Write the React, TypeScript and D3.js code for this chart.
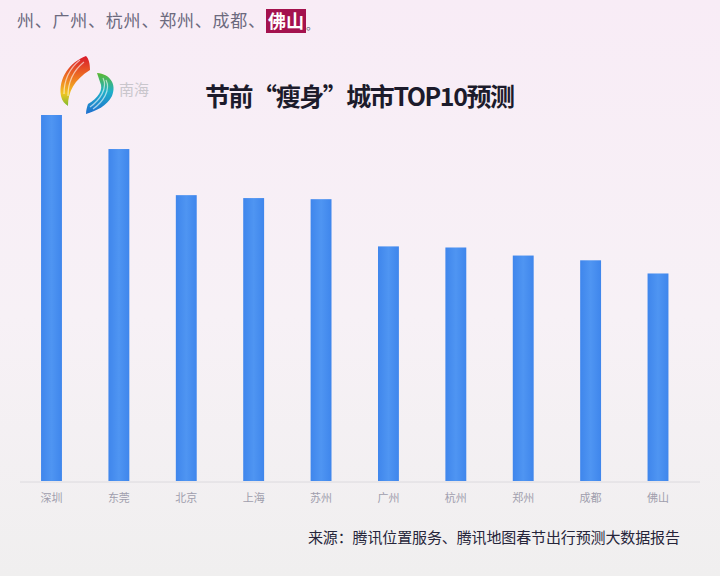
import { useEffect, useRef } from 'react';
import * as d3 from 'd3';

// 节前“瘦身”城市TOP10 — relative index
const cities = ['深圳', '东莞', '北京', '上海', '苏州', '广州', '杭州', '郑州', '成都', '佛山'];
const values = [100, 90.7, 78.1, 77.3, 77.0, 64.1, 63.8, 61.6, 60.3, 56.7];

const headline = '州、广州、杭州、郑州、成都、';
const highlight = '佛山';
const title = '节前“瘦身”城市TOP10预测';
const source = '来源：腾讯位置服务、腾讯地图春节出行预测大数据报告';

const W = 720;
const H = 576;
const FONT = "'Noto Sans CJK SC', 'Noto Sans', sans-serif";

export default function App() {
  const svgRef = useRef<SVGSVGElement>(null);

  useEffect(() => {
    if (!svgRef.current) return;
    const svg = d3.select(svgRef.current);
    svg.selectAll('*').remove();

    const defs = svg.append('defs');
    const bg = defs.append('linearGradient').attr('id', 'bg').attr('x1', 0).attr('y1', 0).attr('x2', 0).attr('y2', 1);
    bg.append('stop').attr('offset', '0%').attr('stop-color', '#f8ecf6');
    bg.append('stop').attr('offset', '55%').attr('stop-color', '#f7f1f6');
    bg.append('stop').attr('offset', '100%').attr('stop-color', '#f0efef');

    const barGrad = defs.append('linearGradient').attr('id', 'barg').attr('x1', 0).attr('y1', 0).attr('x2', 1).attr('y2', 0);
    barGrad.append('stop').attr('offset', '0%').attr('stop-color', '#3f86ec');
    barGrad.append('stop').attr('offset', '50%').attr('stop-color', '#4f95f2');
    barGrad.append('stop').attr('offset', '100%').attr('stop-color', '#3f86ec');

    const warm = defs.append('linearGradient').attr('id', 'warm').attr('x1', 0).attr('y1', 0).attr('x2', 0).attr('y2', 1);
    warm.append('stop').attr('offset', '0%').attr('stop-color', '#d9182b');
    warm.append('stop').attr('offset', '45%').attr('stop-color', '#ef7a22');
    warm.append('stop').attr('offset', '75%').attr('stop-color', '#f1c521');
    warm.append('stop').attr('offset', '100%').attr('stop-color', '#7dbb2f');

    const cool = defs.append('linearGradient').attr('id', 'cool').attr('x1', 0).attr('y1', 0).attr('x2', 0).attr('y2', 1);
    cool.append('stop').attr('offset', '0%').attr('stop-color', '#5cb82e');
    cool.append('stop').attr('offset', '45%').attr('stop-color', '#1fb0c8');
    cool.append('stop').attr('offset', '100%').attr('stop-color', '#1f6fd0');

    svg.append('rect').attr('width', W).attr('height', H).attr('fill', 'url(#bg)');

    // headline strip
    svg.append('text')
      .attr('x', 17).attr('y', 27)
      .attr('font-family', FONT).attr('font-size', 17)
      .attr('fill', '#6c6a7e')
      .attr('textLength', 248)
      .text(headline);
    svg.append('rect').attr('x', 266).attr('y', 9).attr('width', 40).attr('height', 24).attr('fill', '#a4124e');
    svg.append('text')
      .attr('x', 286).attr('y', 28)
      .attr('text-anchor', 'middle')
      .attr('font-family', FONT).attr('font-size', 18).attr('font-weight', 700)
      .attr('fill', '#ffffff')
      .text(highlight);
    svg.append('text')
      .attr('x', 306).attr('y', 30)
      .attr('font-family', FONT).attr('font-size', 12)
      .attr('fill', '#6c6a7e')
      .text('。');

    // logo
    const logo = svg.append('g');
    logo.append('path')
      .attr('d', 'M86 56 C70 62 58 78 61 96 C62 101 65 104 68 106 C68 92 74 80 90 70 C90 64 89 59 86 56 Z')
      .attr('fill', 'url(#warm)');
    logo.append('path')
      .attr('d', 'M97 73 C110 74 117 84 112 96 C107 106 96 111 86 114 C86 110 87 107 88 104 C98 98 104 90 100 82 C99 79 98 76 97 73 Z')
      .attr('fill', 'url(#cool)');
    [0, 1].forEach(i => {
      logo.append('path')
        .attr('d', `M${80 + i * 4} ${60 + i * 2} C${70 + i * 4} ${68 + i * 2} ${64 + i * 4} ${80 + i * 2} ${64 + i * 4} ${94 + i * 2}`)
        .attr('fill', 'none').attr('stroke', '#ffffff').attr('stroke-opacity', 0.6).attr('stroke-width', 1.2);
      logo.append('path')
        .attr('d', `M${103 + i * 3} ${78 + i * 2} C${108 + i * 3} ${88 + i * 2} ${100 + i * 3} ${100 + i * 2} ${90 + i * 3} ${107 + i * 2}`)
        .attr('fill', 'none').attr('stroke', '#ffffff').attr('stroke-opacity', 0.6).attr('stroke-width', 1.2);
    });
    logo.append('text')
      .attr('x', 119).attr('y', 95)
      .attr('font-family', FONT).attr('font-size', 15)
      .attr('fill', '#c9c6cc')
      .text('南海');

    // title
    svg.append('text')
      .attr('x', 205).attr('y', 106)
      .attr('font-family', FONT).attr('font-size', 25).attr('font-weight', 700)
      .attr('fill', '#1c1b2b')
      .attr('textLength', 310)
      .text(title);

    // chart
    const x = d3.scaleBand<string>()
      .domain(cities)
      .range([17.8, 691.7])
      .paddingInner(0.69)
      .paddingOuter(0.345);
    const y = d3.scaleLinear().domain([0, 100]).range([481, 115]);

    svg.append('line')
      .attr('x1', 20).attr('x2', 700)
      .attr('y1', 482).attr('y2', 482)
      .attr('stroke', '#dcdade').attr('stroke-width', 1);

    svg.append('g')
      .selectAll('rect')
      .data(cities)
      .join('rect')
      .attr('x', d => x(d)!)
      .attr('width', x.bandwidth())
      .attr('y', (d, i) => y(values[i]))
      .attr('height', (d, i) => y(0) - y(values[i]))
      .attr('fill', 'url(#barg)');

    svg.append('g')
      .selectAll('text')
      .data(cities)
      .join('text')
      .attr('x', d => x(d)! + x.bandwidth() / 2)
      .attr('y', 502)
      .attr('text-anchor', 'middle')
      .attr('font-family', FONT).attr('font-size', 11)
      .attr('fill', '#a09ead')
      .text(d => d);

    // source
    svg.append('text')
      .attr('x', 308).attr('y', 543)
      .attr('font-family', FONT).attr('font-size', 15)
      .attr('fill', '#26253a')
      .attr('textLength', 372)
      .text(source);
  }, []);

  return (
    <div style={{ position: 'fixed', left: 0, top: 0, width: W, height: H }}>
      <svg ref={svgRef} width={W} height={H} style={{ display: 'block' }} />
    </div>
  );
}
